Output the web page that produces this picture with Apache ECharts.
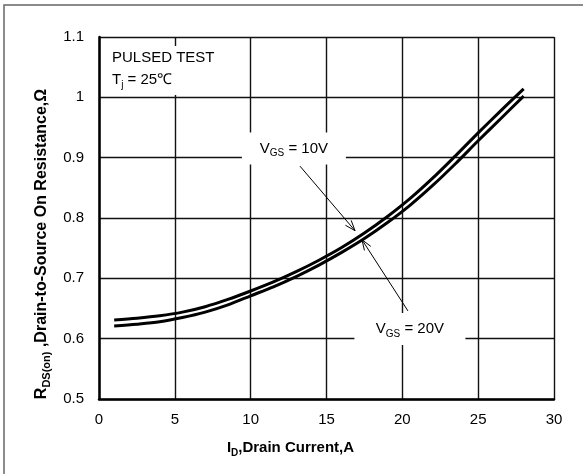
<!DOCTYPE html>
<html><head><meta charset="utf-8">
<script src="https://cdn.jsdelivr.net/npm/echarts@6/dist/echarts.min.js"></script>
<style>html,body{margin:0;padding:0;background:#fff}#c{width:583px;height:474px}</style>
</head><body><div id="c"></div>
<script>
// ---- data ----
const currentA = [1, 2.5, 4, 5.5, 7, 8.5, 10, 11.5, 13, 14.5, 16, 17.5, 19, 20.5, 22, 23.5, 25, 26.5, 28];
const rds10V = [0.631, 0.634, 0.638, 0.644, 0.653, 0.665, 0.679, 0.694, 0.711, 0.730, 0.751, 0.775, 0.802, 0.832, 0.866, 0.903, 0.941, 0.978, 1.014];
const rds20V = [0.621, 0.624, 0.628, 0.635, 0.644, 0.656, 0.671, 0.686, 0.703, 0.722, 0.743, 0.766, 0.792, 0.821, 0.854, 0.890, 0.928, 0.965, 1.002];
const xTicks = [0, 5, 10, 15, 20, 25, 30];
const yTicks = [0.5, 0.6, 0.7, 0.8, 0.9, 1.0, 1.1];
const seriesNames = ['VGS = 10V', 'VGS = 20V'];
// annotation anchors in data coordinates
const label10 = [12.85, 0.915], arrow10From = [13.25, 0.886], arrow10To = [16.88, 0.779];
const label20 = [20.5, 0.616], arrow20From = [20.37, 0.646], arrow20To = [17.34, 0.764];

const FONT = '"Liberation Sans", Arial, sans-serif';
const chart = echarts.init(document.getElementById('c'), null, {renderer: 'canvas'});
const toPairs = (xs, ys) => xs.map((x, i) => [x, ys[i]]);
chart.setOption({
  animation: false,
  backgroundColor: '#fff',
  grid: {left: 99, top: 37, right: 29, bottom: 75, containLabel: false},
  xAxis: {
    type: 'value', min: xTicks[0], max: xTicks[xTicks.length - 1], interval: 5,
    axisLine: {show: true, onZero: false, lineStyle: {color: '#000', width: 2.5}},
    axisTick: {show: false},
    splitLine: {show: true, lineStyle: {color: '#111', width: 1.4}},
    axisLabel: {color: '#000', fontSize: 15, fontFamily: FONT, margin: 13},
    name: 'I{s|D},Drain Current,A', nameLocation: 'middle', nameGap: 39,
    nameTextStyle: {color: '#000', fontSize: 15, fontWeight: 'bold', fontFamily: FONT, padding: [0, 72, 0, 0],
      rich: {s: {fontSize: 10, fontWeight: 'bold', fontFamily: FONT, verticalAlign: 'bottom', lineHeight: 20}}}
  },
  yAxis: {
    type: 'value', min: yTicks[0], max: yTicks[yTicks.length - 1], interval: 0.1,
    axisLine: {show: true, onZero: false, lineStyle: {color: '#000', width: 2.5}},
    axisTick: {show: false},
    splitLine: {show: true, lineStyle: {color: '#111', width: 1.4}},
    axisLabel: {color: '#000', fontSize: 15, fontFamily: FONT, margin: 15,
      formatter: v => String(Math.round(v * 10) / 10)},
    name: 'R{s|DS(on)} ,Drain-to-Source On Resistance,Ω', nameLocation: 'middle', nameGap: 47,
    nameTextStyle: {color: '#000', fontSize: 16, fontWeight: 'bold', fontFamily: FONT, padding: [0, 52, 0, 0],
      rich: {s: {fontSize: 11, fontWeight: 'bold', fontFamily: FONT, verticalAlign: 'bottom', lineHeight: 21}}}
  },
  series: [
    {name: seriesNames[0], type: 'line', data: toPairs(currentA, rds10V), smooth: 0.3, showSymbol: false,
     lineStyle: {color: '#000', width: 3}, z: 5},
    {name: seriesNames[1], type: 'line', data: toPairs(currentA, rds20V), smooth: 0.3, showSymbol: false,
     lineStyle: {color: '#000', width: 3}, z: 5}
  ]
});

function px(p) { return chart.convertToPixel({gridIndex: 0}, p); }
function arrow(from, to) {
  const a = px(from), b = px(to);
  const ang = Math.atan2(b[1] - a[1], b[0] - a[0]);
  const L = 11, spread = 0.35;
  const h1 = [b[0] - L * Math.cos(ang - spread), b[1] - L * Math.sin(ang - spread)];
  const h2 = [b[0] - L * Math.cos(ang + spread), b[1] - L * Math.sin(ang + spread)];
  return [
    {type: 'line', z: 20, shape: {x1: a[0], y1: a[1], x2: b[0], y2: b[1]}, style: {stroke: '#000', lineWidth: 1}},
    {type: 'polyline', z: 20, shape: {points: [h1, b, h2]}, style: {stroke: '#000', lineWidth: 1, fill: null}}
  ];
}
const RICH = {s: {fontSize: 10, fontFamily: FONT, fill: '#000', verticalAlign: 'bottom', lineHeight: 20},
              n: {fontSize: 15, fontFamily: FONT, fill: '#000', lineHeight: 20}};
function label(center, w, h, txt) {
  const c = px(center);
  return [
    {type: 'rect', z: 15, shape: {x: c[0] - w / 2, y: c[1] - h / 2, width: w, height: h}, style: {fill: '#fff'}},
    {type: 'text', z: 16, x: c[0], y: c[1], style: {text: txt, x: 0, y: 0, align: 'center', verticalAlign: 'middle',
      fill: '#000', font: '15px ' + FONT, rich: RICH}}
  ];
}
const tl = px([0, 1.1]);
chart.setOption({
  graphic: [
    {type: 'rect', z: 1, shape: {x: 4, y: 5, width: 800, height: 600}, style: {fill: null, stroke: '#666', lineWidth: 1.5}, silent: true},
    {type: 'rect', z: 15, shape: {x: tl[0] + 5, y: tl[1] + 9, width: 118, height: 49}, style: {fill: '#fff'}},
    {type: 'text', z: 16, x: tl[0] + 13, y: tl[1] + 21, style: {text: 'PULSED TEST', align: 'left', verticalAlign: 'middle', fill: '#000', font: '15px ' + FONT}},
    {type: 'text', z: 16, x: tl[0] + 13, y: tl[1] + 43, style: {text: '{n|T}{s|j}{n| = 25℃}', align: 'left', verticalAlign: 'middle', fill: '#000', font: '15px ' + FONT, rich: RICH}},
    ...label(label10, 104, 32, '{n|V}{s|GS}{n| = 10V}'),
    ...label(label20, 111, 32, '{n|V}{s|GS}{n| = 20V}'),
    ...arrow(arrow10From, arrow10To),
    ...arrow(arrow20From, arrow20To)
  ]
});
</script></body></html>
